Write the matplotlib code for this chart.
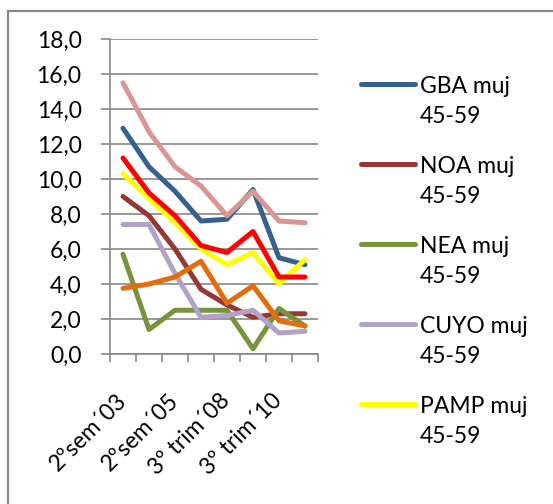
import matplotlib
matplotlib.use("Agg")
import matplotlib.pyplot as plt
from matplotlib.lines import Line2D
from matplotlib.patches import Rectangle
from matplotlib.ticker import FuncFormatter, FixedLocator

plt.rcParams['font.family'] = ['Lato', 'DejaVu Sans']

# Periods (8 observations); only every second one is labelled on the axis
n_periods = 8
tick_labels = ["2ºsem´03", "2ºsem´05", "3º trim´08", "3º trim´10"]

# Women 45-59, by region
gba = [12.9, 10.7, 9.3, 7.6, 7.7, 9.4, 5.5, 5.1]
noa = [9.0, 7.9, 6.0, 3.7, 2.8, 2.1, 2.3, 2.3]
nea = [5.7, 1.4, 2.5, 2.5, 2.5, 0.3, 2.6, 1.6]
cuyo = [7.4, 7.4, 4.6, 2.1, 2.2, 2.5, 1.2, 1.3]
pamp = [10.3, 8.9, 7.5, 6.0, 5.1, 5.8, 4.0, 5.4]
series_red = [11.2, 9.2, 7.9, 6.2, 5.8, 7.0, 4.4, 4.4]
series_orange = [3.75, 4.0, 4.4, 5.3, 2.9, 3.9, 1.9, 1.6]
series_pink = [15.5, 12.7, 10.7, 9.6, 7.9, 9.3, 7.6, 7.5]

legend_names = ["GBA muj", "NOA muj", "NEA muj", "CUYO muj", "PAMP muj"]
age_group = "45-59"

colors = {
    "gba": "#376092",
    "noa": "#953735",
    "nea": "#77933C",
    "cuyo": "#B3A2C7",
    "pamp": "#FFFF00",
    "red": "#FF0000",
    "orange": "#E46C0A",
    "pink": "#D99694",
}

fig = plt.figure(figsize=(5.53, 5.04), dpi=100)
fig.patch.set_facecolor("white")

W, H = 553, 504
ax = fig.add_axes([110 / W, 1 - 354 / H, 208 / W, 315 / H])

x = list(range(n_periods))
lw = 3.6
plot_order = [
    (gba, "gba"), (noa, "noa"), (nea, "nea"), (cuyo, "cuyo"), (pamp, "pamp"),
    (series_red, "red"), (series_orange, "orange"), (series_pink, "pink"),
]
for vals, key in plot_order:
    ax.plot(x, vals, color=colors[key], lw=lw, solid_joinstyle="round",
            solid_capstyle="round")

grid_c = "#888888"
ax.set_xlim(-0.5, n_periods - 0.5)
ax.set_ylim(0, 18)
ax.set_yticks(range(0, 19, 2))
ax.yaxis.set_major_formatter(FuncFormatter(lambda v, p: f"{v:.1f}".replace(".", ",")))
ax.yaxis.grid(True, color=grid_c, lw=1.2)
ax.set_axisbelow(True)

# category boundaries carry the tick marks, every other centre carries a label
ax.xaxis.set_major_locator(FixedLocator([i - 0.5 for i in range(n_periods + 1)]))
ax.xaxis.set_major_formatter(FuncFormatter(lambda v, p: ""))
ax.xaxis.set_minor_locator(FixedLocator(x[::2]))
ax.set_xticklabels(tick_labels, minor=True)
ax.tick_params(axis="x", which="minor", length=0, pad=31, labelsize=16.5)
ax.tick_params(axis="x", which="major", direction="out", length=6, color=grid_c, width=1.2)
ax.tick_params(axis="y", direction="out", length=6.5, color=grid_c, width=1.2,
               pad=14, labelsize=16.5)
for lab in ax.get_xticklabels(minor=True):
    lab.set_rotation(45)
    lab.set_rotation_mode("anchor")
    lab.set_ha("right")
    lab.set_va("center")

for side in ("top", "right"):
    ax.spines[side].set_visible(False)
for side in ("left", "bottom"):
    ax.spines[side].set_color(grid_c)
    ax.spines[side].set_linewidth(1.2)

# legend: handle aligned with the first line of each two-line entry
legend_keys = ["gba", "noa", "nea", "cuyo", "pamp"]
row_y = [84, 164, 244, 324, 404]
for name, key, y in zip(legend_names, legend_keys, row_y):
    fig.add_artist(Line2D([361 / W, 415 / W], [1 - y / H, 1 - y / H],
                          transform=fig.transFigure, color=colors[key], lw=lw,
                          solid_capstyle="round"))
    fig.text(420 / W, 1 - (y + 9) / H, name, fontsize=16.5, va="baseline", ha="left")
    fig.text(420 / W, 1 - (y + 39) / H, age_group, fontsize=16.5, va="baseline", ha="left")

# outer chart frame
fig.add_artist(Rectangle((8 / W, -0.1), 1.2, 1.1 - 11.5 / H, transform=fig.transFigure,
                         fill=False, edgecolor=grid_c, lw=1.6))

fig.savefig("out.png", dpi=100)
